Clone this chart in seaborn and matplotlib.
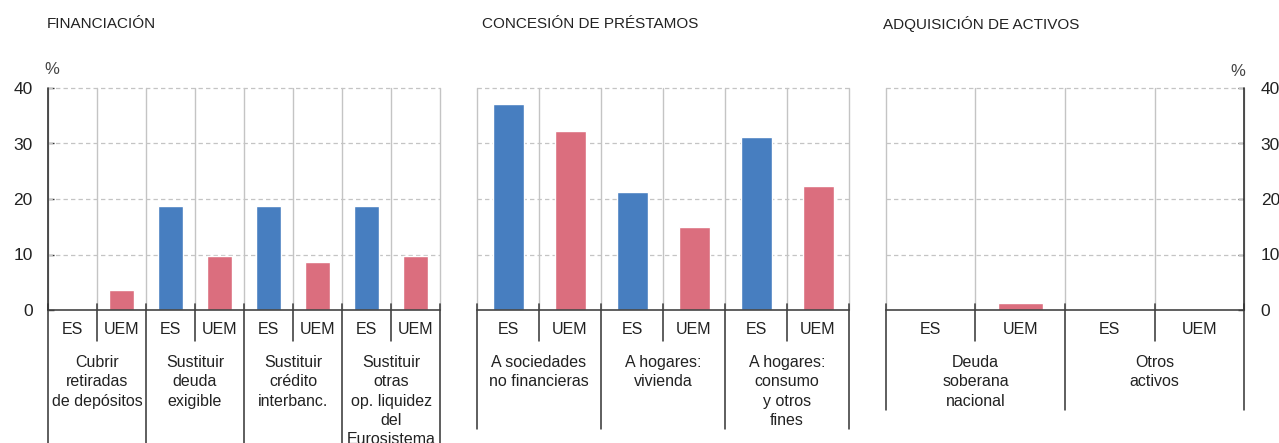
import matplotlib
matplotlib.use("Agg")
import matplotlib.pyplot as plt
import matplotlib.transforms as mtransforms
import seaborn as sns
import pandas as pd

# ---------------- data ----------------
fin_groups = ["Cubrir\nretiradas\nde depósitos", "Sustituir\ndeuda\nexigible",
              "Sustituir\ncrédito\ninterbanc.", "Sustituir\notras\nop. liquidez\ndel\nEurosistema"]
fin_es = [0.0, 18.7, 18.7, 18.7]
fin_uem = [3.6, 9.8, 8.6, 9.7]

pres_groups = ["A sociedades\nno financieras", "A hogares:\nvivienda",
               "A hogares:\nconsumo\ny otros\nfines"]
pres_es = [37.2, 21.3, 31.1]
pres_uem = [32.2, 15.0, 22.3]

act_groups = ["Deuda\nsoberana\nnacional", "Otros\nactivos"]
act_es = [0.0, 0.0]
act_uem = [1.2, 0.0]

series = ["ES", "UEM"]
titles = ["FINANCIACIÓN", "CONCESIÓN DE PRÉSTAMOS", "ADQUISICIÓN DE ACTIVOS"]
yticks = [0, 10, 20, 30, 40]

# ---------------- style ----------------
sns.set_theme(style="white")
plt.rcParams["font.family"] = ["Liberation Sans", "DejaVu Sans"]
BLUE = "#477EC0"
PINK = "#DB6E7E"
DARK = "#333333"
GRID = "#c4c4c4"
TXT = "#222222"

W, H = 1279, 443
fig = plt.figure(figsize=(W / 100, H / 100), dpi=100)


def fx(px):
    return px / W


def fy(py):
    return 1 - py / H


top_px, zero_px = 88, 310
panels = [
    dict(groups=fin_groups, es=fin_es, uem=fin_uem, x0=48, x1=440, bottom=443, title_x=47, title=titles[0]),
    dict(groups=pres_groups, es=pres_es, uem=pres_uem, x0=477, x1=849, bottom=429, title_x=482, title=titles[1]),
    dict(groups=act_groups, es=act_es, uem=act_uem, x0=886, x1=1244, bottom=410, title_x=883, title=titles[2]),
]

for i, p in enumerate(panels):
    ax = fig.add_axes([fx(p["x0"]), fy(zero_px), fx(p["x1"] - p["x0"]), (zero_px - top_px) / H])
    slots, vals, sers = [], [], []
    for g, (e, u) in enumerate(zip(p["es"], p["uem"])):
        slots += [f"{g}-ES", f"{g}-UEM"]
        vals += [e, u]
        sers += ["ES", "UEM"]
    df = pd.DataFrame({"slot": slots, "val": vals, "serie": sers})
    sns.barplot(data=df, x="slot", y="val", hue="serie", order=slots,
                palette={"ES": BLUE, "UEM": PINK}, dodge=False, width=0.5,
                saturation=1, legend=False, ax=ax, zorder=3)
    n = len(slots)
    ax.set_xlim(-0.5, n - 0.5)
    ax.set_ylim(0, 40)
    for s in ax.spines.values():
        s.set_visible(False)
    ax.set_xlabel("")
    ax.set_ylabel("")
    ax.set_xticks([])
    ax.set_facecolor("none")

    # horizontal dashed grid
    for yv in [10, 20, 30, 40]:
        ax.plot([-0.5, n - 0.5], [yv, yv], color=GRID, lw=0.9, ls=(0, (3.5, 2.5)),
                clip_on=False, zorder=1)
    # vertical light grid
    for k in range(n + 1):
        ax.plot([k - 0.5, k - 0.5], [0, 40], color=GRID, lw=1.0, clip_on=False, zorder=1)
    # zero line and little ticks
    ax.plot([-0.5, n - 0.5], [0, 0], color="#444444", lw=1.2, clip_on=False, zorder=4)
    for k in range(n + 1):
        ax.plot([k - 0.5, k - 0.5], [0, 1.0], color="#444444", lw=1.2, clip_on=False, zorder=4)

    trans = mtransforms.blended_transform_factory(ax.transData, fig.transFigure)
    # separators below
    for k in range(n + 1):
        xk = k - 0.5
        if k % 2 == 0:
            ax.plot([xk, xk], [fy(zero_px), fy(p["bottom"])], color=DARK, lw=1.1,
                    transform=trans, clip_on=False)
        else:
            ax.plot([xk, xk], [fy(zero_px), fy(341)], color=DARK, lw=1.1,
                    transform=trans, clip_on=False)
    # ES / UEM labels
    for k, s in enumerate(sers):
        ax.text(k, fy(330), s, transform=trans, ha="center", va="center",
                fontsize=11.5, color=TXT)
    # group labels
    for g, lab in enumerate(p["groups"]):
        ax.text(2 * g + 0.5, fy(355), lab, transform=trans, ha="center", va="top",
                fontsize=11.5, color=TXT, linespacing=1.36)

    # y axis
    ax.set_yticks(yticks)
    if i == 0:
        ax.plot([-0.5, -0.5], [0, 40], color=DARK, lw=1.2, clip_on=False, zorder=5)
        ax.tick_params(axis="y", direction="in", length=4, width=1, color=DARK,
                       labelsize=12.5, pad=11, labelcolor=TXT, left=True, right=False)
        fig.text(fx(52), fy(70), "%", ha="center", va="center", fontsize=12, color="#444444")
    elif i == 2:
        ax.plot([n - 0.5, n - 0.5], [0, 40], color=DARK, lw=1.2, clip_on=False, zorder=5)
        ax.yaxis.tick_right()
        ax.tick_params(axis="y", direction="in", length=4, width=1, color=DARK,
                       labelsize=12.5, pad=12, labelcolor=TXT, left=False, right=True)
        fig.text(fx(1238), fy(72), "%", ha="center", va="center", fontsize=12, color="#444444")
    else:
        ax.set_yticks([])
    # title
    fig.text(fx(p["title_x"]), fy(24), p["title"], ha="left", va="center",
             fontsize=11, color=TXT)

fig.savefig("out.png", dpi=100, facecolor="white")
